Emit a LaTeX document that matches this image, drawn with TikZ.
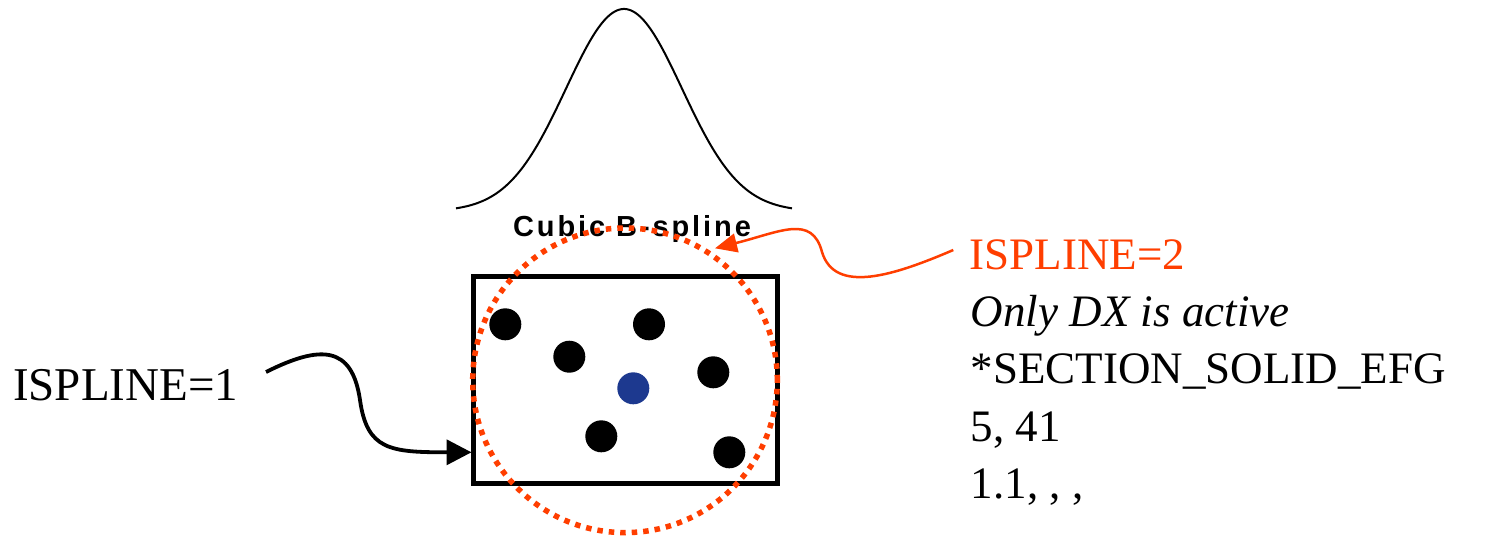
\documentclass[tikz,border=0pt]{standalone}
\usepackage{fontspec}
\setmainfont{Liberation Serif}
\newfontfamily\cubicfont{Liberation Sans}[LetterSpace=10]
\usetikzlibrary{arrows.meta}
\definecolor{splred}{RGB}{255,62,0}
\definecolor{dotblue}{RGB}{29,57,143}
\tikzset{
  lbl/.style={anchor=base west, inner sep=0pt, font=\fontsize{45}{54}\selectfont},
  datadot/.style={fill=black, draw=none},
  blackarrow/.style={line width=3.8pt, -{Triangle[length=25pt,width=25pt]}},
  redarrow/.style={line width=2.5pt, draw=splred, -{Triangle[length=22pt,width=19pt]}, fill=none},
  influence/.style={draw=splred, line width=5.5pt, dash pattern=on 5.5pt off 6pt},
}
\begin{document}
\begin{tikzpicture}[x=1pt, y=-1pt]
\useasboundingbox (0,0) rectangle (1495,536);
% bell curve
\draw[line width=2pt, line join=round] plot[domain=-168:168, samples=160]
  ({624+\x}, {208.3 - 199.3*(exp(-0.5*(\x/58)^2) - 0.01507)/0.98493});
% title
\node[anchor=base, inner sep=0pt, font=\cubicfont\bfseries\fontsize{29}{34}\selectfont] (title) at (632,236) {Cubic B-spline};
% element box
\coordinate (boxsw) at (473.3,483.7);
\coordinate (boxne) at (777.5,276.7);
\draw[line width=5pt] (boxsw) rectangle (boxne);
% particles
\foreach \px/\py [count=\i] in {505.3/324.3, 649/324.3, 569.3/356.7, 713.3/372.3, 601.3/436.3, 729.3/452.3}
  \fill[datadot] (\px,\py) circle[radius=16pt] coordinate (p\i);
\fill[dotblue] (633.3,388.3) circle[radius=16pt] coordinate (pc);
% support circle
\coordinate (cc) at (625,380.3);
\draw[influence] (cc) circle[radius=152.3pt];
% labels
\node[lbl, font=\fontsize{47}{56}\selectfont] (isp1) at (13,400.7) {ISPLINE=1};
\node[lbl, text=splred] (isp2) at (969.3,269.3) {ISPLINE=2};
\node[lbl] (l2) at (970.7,326) {\itshape Only DX is active};
\node[lbl] (l3) at (970.7,383.3) {*SECTION\_SOLID\_EFG};
\node[lbl] (l4) at (970.7,441.7) {5, 41};
\node[lbl] (l5) at (970.7,498.3) {1.1, , ,};
% connectors
\coordinate (a1s) at (266,372);
\coordinate (a1e) at (471.5,452.3);
\draw[blackarrow] (a1s) .. controls (320,345) and (352,345) .. (360,400)
  .. controls (367,450) and (390,452.3) .. (a1e);
\coordinate (a2s) at (953.3,250);
\coordinate (a2e) at (715,248.3);
\draw[redarrow] (a2s) .. controls (895,275) and (835,295) .. (822,252)
  .. controls (812,214) and (780,232) .. (a2e);
\end{tikzpicture}
\end{document}
